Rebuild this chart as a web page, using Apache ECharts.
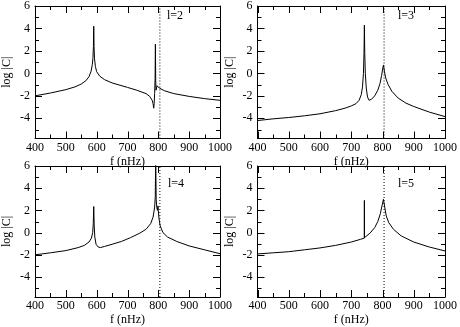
<!DOCTYPE html>
<html>
<head>
<meta charset="utf-8">
<script src="https://cdn.jsdelivr.net/npm/echarts@6/dist/echarts.min.js"></script>
<style>
html, body { margin: 0; padding: 0; background: #fff; }
#chart { width: 460px; height: 327px; }
</style>
</head>
<body>
<div id="chart"></div>
<script>
// l=2
var freqL2 = [400, 450, 500, 530, 550, 565, 575, 582, 586, 588, 589.5, 590.5, 591.5, 593, 596, 600, 610, 625, 650, 700, 730, 760, 772, 780, 783, 785, 786.5, 788, 789.5, 790.5, 791.5, 792.5, 794, 796, 797.5, 799, 803, 820, 850, 900, 950, 1000];
var logCL2 = [-2.0, -1.75, -1.45, -1.2, -0.95, -0.65, -0.3, 0.2, 0.8, 1.4, 2.4, 4.2, 2.4, 1.3, 0.6, 0.15, -0.25, -0.55, -0.85, -1.25, -1.5, -1.8, -2.05, -2.4, -2.7, -3.1, -2.7, -1.8, -0.5, 2.6, -0.6, -1.5, -1.45, -1.1, -1.05, -1.2, -1.3, -1.55, -1.8, -2.05, -2.25, -2.4];
// l=3
var freqL3 = [400, 450, 500, 550, 600, 650, 680, 700, 715, 725, 732, 736, 739, 740.8, 742, 743.2, 745, 748, 752, 757, 765, 775, 785, 792, 797, 800, 803, 806, 810, 818, 830, 850, 875, 900, 950, 1000];
var logCL3 = [-4.2, -4.05, -3.93, -3.78, -3.6, -3.32, -3.1, -2.9, -2.7, -2.4, -1.9, -1.2, 0.0, 1.8, 4.3, 1.8, 0.0, -1.3, -2.1, -2.4, -2.3, -2.0, -1.5, -0.9, -0.2, 0.3, 0.75, 0.2, -0.4, -1.0, -1.6, -2.2, -2.65, -2.95, -3.45, -3.85];
// l=4
var freqL4 = [400, 450, 500, 540, 560, 575, 583, 587, 589, 590.5, 592, 594, 598, 605, 612, 625, 650, 680, 710, 740, 760, 775, 783, 788, 790, 791.5, 793, 795, 797, 799, 800, 802, 806, 815, 830, 860, 900, 950, 1000];
var logCL4 = [-2.0, -1.82, -1.62, -1.35, -1.15, -0.85, -0.5, 0.0, 0.8, 2.35, 0.6, -0.4, -1.05, -1.3, -1.35, -1.25, -1.05, -0.8, -0.45, -0.05, 0.3, 0.8, 1.4, 2.3, 3.2, 6.5, 3.0, 2.3, 2.0, 2.4, 2.0, 1.3, 0.6, 0.0, -0.4, -0.8, -1.2, -1.55, -1.9];
// l=5
var freqL5 = [400, 450, 500, 550, 600, 650, 700, 730, 741.6, 742, 742.4, 760, 775, 785, 793, 799, 803, 807, 812, 820, 835, 860, 900, 950, 1000];
var logCL5 = [-1.92, -1.82, -1.72, -1.55, -1.38, -1.15, -0.85, -0.6, -0.5, 2.9, -0.45, -0.05, 0.45, 1.0, 1.7, 2.5, 3.0, 2.3, 1.5, 0.9, 0.3, -0.3, -0.85, -1.3, -1.65];

var panelLabels = ['l=2', 'l=3', 'l=4', 'l=5'];
var xRange = { min: 400, max: 1000, interval: 100 };
var yRange = { min: -5.8, max: 6 };
var xMajorTicks = [400, 500, 600, 700, 800, 900, 1000];
var xMinorTicks = [450, 550, 650, 750, 850, 950];
var yMajorTicks = [-4, -2, 0, 2, 4, 6];
var yMinorTicks = [-5, -3, -1, 1, 3, 5];
var resonanceFreq = 805;

var panels = [
	{ f: freqL2, c: logCL2, grid: { left: 30, top: 6, width: 190, height: 132.5 }, label: [167, 10] },
	{ f: freqL3, c: logCL3, grid: { left: 257.5, top: 6, width: 189, height: 132.5 }, label: [398, 10] },
	{ f: freqL4, c: logCL4, grid: { left: 30, top: 166, width: 190, height: 133 }, label: [168, 178] },
	{ f: freqL5, c: logCL5, grid: { left: 257.5, top: 166, width: 189, height: 133 }, label: [398, 178] }
];

var font = 'Liberation Serif';
var black = '#000';
var majorLen = 7, minorLen = 4;

// inward ticks on all four sides, placed with the axes' own scales
function tickSeries(i, dim, values, len) {
	return {
		type: 'custom',
		xAxisIndex: 2 * i,
		yAxisIndex: 2 * i,
		silent: true,
		data: values.map(function (v) { return dim === 'x' ? [v, yRange.min] : [xRange.min, v]; }),
		renderItem: function (params, api) {
			var style = { stroke: black, lineWidth: 1 };
			if (dim === 'x') {
				var v = api.value(0);
				var a = api.coord([v, yRange.min]), b = api.coord([v, yRange.max]);
				var x = Math.round(a[0]) + 0.5;
				return {
					type: 'group', children: [
						{ type: 'line', shape: { x1: x, y1: a[1], x2: x, y2: a[1] - len }, style: style },
						{ type: 'line', shape: { x1: x, y1: b[1], x2: x, y2: b[1] + len }, style: style }
					]
				};
			}
			var w = api.value(1);
			var l = api.coord([xRange.min, w]), r = api.coord([xRange.max, w]);
			var y = Math.round(l[1]) + 0.5;
			return {
				type: 'group', children: [
					{ type: 'line', shape: { x1: l[0], y1: y, x2: l[0] + len, y2: y }, style: style },
					{ type: 'line', shape: { x1: r[0], y1: y, x2: r[0] - len, y2: y }, style: style }
				]
			};
		}
	};
}

var grids = [], xAxes = [], yAxes = [], series = [], titles = [];
panels.forEach(function (p, i) {
	grids.push(p.grid);
	['bottom', 'top'].forEach(function (pos) {
		xAxes.push({
			gridIndex: i, type: 'value', position: pos,
			min: xRange.min, max: xRange.max, interval: xRange.interval,
			axisLine: { show: true, onZero: false, lineStyle: { color: black } },
			axisTick: { show: false },
			minorTick: { show: false },
			splitLine: { show: false },
			axisLabel: {
				show: pos === 'bottom', margin: 3, color: black, fontFamily: font, fontSize: 12,
				formatter: function (v) { return String(v); }
			},
			name: pos === 'bottom' ? 'f (nHz)' : '',
			nameLocation: 'middle', nameGap: 17,
			nameTextStyle: { fontFamily: font, fontSize: 12, color: black }
		});
	});
	['left', 'right'].forEach(function (pos) {
		yAxes.push({
			gridIndex: i, type: 'value', position: pos, min: yRange.min, max: yRange.max,
			axisLine: { show: true, onZero: false, lineStyle: { color: black } },
			axisTick: { show: false },
			minorTick: { show: false },
			splitLine: { show: false },
			axisLabel: {
				show: pos === 'left', showMinLabel: false, margin: 5, color: black,
				fontFamily: font, fontSize: 12
			},
			name: pos === 'left' ? 'log |C|' : '',
			nameLocation: 'middle', nameGap: 22,
			nameTextStyle: { fontFamily: font, fontSize: 12, color: black }
		});
	});
	series.push({
		type: 'line',
		xAxisIndex: 2 * i,
		yAxisIndex: 2 * i,
		data: p.f.map(function (f, k) { return [f, p.c[k]]; }),
		showSymbol: false,
		lineStyle: { color: black, width: 1 }
	});
	// dotted vertical line at the resonance frequency
	series.push({
		type: 'line',
		xAxisIndex: 2 * i,
		yAxisIndex: 2 * i,
		data: [[resonanceFreq, yRange.min], [resonanceFreq, yRange.max]],
		showSymbol: false,
		silent: true,
		lineStyle: { color: black, width: 1, type: [1, 2] }
	});
	series.push(tickSeries(i, 'x', xMajorTicks, majorLen));
	series.push(tickSeries(i, 'x', xMinorTicks, minorLen));
	series.push(tickSeries(i, 'y', yMajorTicks, majorLen));
	series.push(tickSeries(i, 'y', yMinorTicks, minorLen));
	titles.push({
		text: panelLabels[i], left: p.label[0], top: p.label[1], padding: 0,
		textStyle: { fontFamily: font, fontSize: 12, fontWeight: 'normal', color: black }
	});
});

var myChart = echarts.init(document.getElementById('chart'));
var option = {
	animation: false,
	title: titles,
	grid: grids,
	xAxis: xAxes,
	yAxis: yAxes,
	series: series
};
myChart.setOption(option);
</script>
</body>
</html>
